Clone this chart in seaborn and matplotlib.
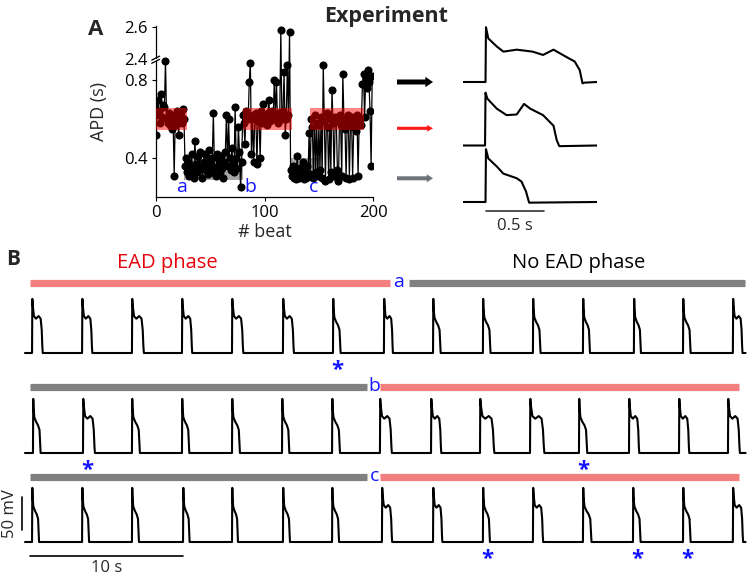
import numpy as np
import pandas as pd
import matplotlib
matplotlib.use("Agg")
import matplotlib.pyplot as plt
import seaborn as sns
from matplotlib.patches import Rectangle, FancyArrowPatch
from matplotlib.lines import Line2D

# ---------------- data ----------------
beat_apd = [
    0.52, 0.62, 0.70, 0.64, 0.58, 0.73, 0.61, 0.67, 0.66, 0.90,
    0.60, 0.58, 0.63, 0.57, 0.61, 0.55, 0.59, 0.31, 0.62, 0.57,
    0.64, 0.52, 0.60, 0.62, 0.58, 0.65, 0.60, 0.36, 0.40, 0.33,
    0.38, 0.31, 0.35, 0.42, 0.34, 0.30, 0.49, 0.37, 0.33, 0.41,
    0.36, 0.43, 0.35, 0.30, 0.38, 0.42, 0.34, 0.39, 0.32, 0.44,
    0.37, 0.33, 0.40, 0.63, 0.35, 0.31, 0.42, 0.36, 0.39, 0.33,
    0.41, 0.35, 0.30, 0.38, 0.43, 0.62, 0.36, 0.60, 0.40, 0.34,
    0.45, 0.37, 0.33, 0.66, 0.40, 0.35, 0.56, 0.43, 0.25, 0.38,
    0.62, 0.58, 0.47, 0.64, 0.61, 0.60, 0.79, 0.89, 0.42, 0.62,
    0.38, 0.60, 0.63, 0.37, 0.59, 0.61, 0.40, 0.64, 0.58, 0.68,
    0.60, 0.62, 0.57, 0.63, 0.70, 0.59, 0.61, 0.64, 0.60, 0.80,
    0.62, 0.79, 0.58, 0.63, 0.61, 2.58, 0.60, 0.64, 0.84, 0.52,
    0.60, 0.88, 0.62, 2.57, 0.34, 0.31, 0.36, 0.30, 0.33, 0.29,
    0.41, 0.32, 0.30, 0.35, 0.31, 0.38, 0.29, 0.33, 0.30, 0.36,
    0.31, 0.53, 0.32, 0.60, 0.56, 0.30, 0.62, 0.33, 0.58, 0.31,
    0.57, 0.34, 0.61, 0.30, 0.88, 0.59, 0.28, 0.63, 0.56, 0.29,
    0.60, 0.33, 0.75, 0.58, 0.31, 0.61, 0.59, 0.34, 0.28, 0.62,
    0.57, 0.31, 0.83, 0.60, 0.55, 0.30, 0.58, 0.62, 0.29, 0.57,
    0.61, 0.30, 0.56, 0.59, 0.54, 0.62, 0.31, 0.58, 0.60, 0.57,
    0.78, 0.83, 0.61, 0.81, 0.76, 0.85, 0.79, 0.64, 0.36, 0.82,
]
beat_idx = list(range(len(beat_apd)))

red_boxes = [(0, 29), (80, 125), (142, 191)]       # beat ranges, EAD phase
red_box_apd = (0.542, 0.659)
gray_boxes = [(26, 80, 0.289, 0.357), (124, 151, 0.289, 0.400)]
phase_letters = ["a", "b", "c"]
letter_beats = [24, 87, 145.5]

# representative action potentials (time s, membrane potential mV)
ap_long_t = [0, 0.194, 0.198, 0.218, 0.290, 0.348, 0.463, 0.600, 0.690, 0.780, 0.890, 0.963, 1.006, 1.030, 1.045, 1.155]
ap_long_v = [-80, -80, 3, -14, -26, -34, -31, -34, -39, -31, -42, -49, -62, -82, -81, -80]
ap_ead_t = [0, 0.190, 0.194, 0.210, 0.290, 0.376, 0.463, 0.526, 0.578, 0.690, 0.780, 0.808, 0.830, 1.155]
ap_ead_v = [-80, -80, 0, -9, -24, -34, -33, -17, -24, -34, -50, -72, -81, -80]
ap_short_t = [0, 0.194, 0.198, 0.218, 0.290, 0.348, 0.463, 0.504, 0.543, 0.570, 1.155]
ap_short_v = [-80, -80, 0, -14, -26, -37, -44, -49, -64, -81, -80]

# panel B: beat onsets (s), APD (s), EAD flag per row
row_onsets = [
    [0.46, 3.73, 6.99, 10.26, 13.53, 16.86, 20.13, 23.46, 26.67, 29.93, 33.20, 36.47, 39.80, 43.01, 46.27],
    [0.52, 3.79, 6.99, 10.26, 13.53, 16.80, 20.07, 23.20, 26.54, 29.74, 33.01, 36.21, 39.48, 42.75, 45.95],
    [0.46, 3.73, 6.99, 10.33, 13.53, 16.86, 20.07, 23.33, 26.67, 29.93, 33.20, 36.47, 39.74, 43.01, 46.27],
]
row_apd = [
    [0.68, 0.65, 0.76, 0.65, 0.72, 0.70, 0.48, 0.57, 0.48, 0.48, 0.48, 0.44, 0.44, 0.48, 0.61],
    [0.48, 0.76, 0.50, 0.46, 0.50, 0.46, 0.50, 0.76, 0.65, 0.92, 0.92, 0.52, 0.65, 0.65, 0.76],
    [0.44, 0.44, 0.44, 0.41, 0.37, 0.44, 0.44, 0.65, 0.59, 0.44, 0.65, 0.54, 0.48, 0.48, 0.65],
]
row_ead = [
    [1, 1, 1, 1, 1, 1, 0, 1, 0, 0, 0, 0, 0, 0, 1],
    [0, 1, 0, 0, 0, 0, 0, 1, 1, 1, 1, 0, 1, 1, 1],
    [0, 0, 0, 0, 0, 0, 0, 1, 1, 0, 1, 0, 0, 0, 1],
]
row_asterisks = [[6], [1, 11], [9, 12, 13]]
row_phases = [
    [(0.33, 23.86, "ead"), (25.1, 47.06, "noead")],
    [(0.33, 22.35, "noead"), (23.2, 46.7, "ead")],
    [(0.33, 22.35, "noead"), (23.2, 46.7, "ead")],
]
row_letter_t = [24.45, 22.85, 22.85]
trace_end = 47.1

# AP templates (fraction of APD, mV)
ead_frac = [0.0, 0.04, 0.15, 0.35, 0.60, 0.80, 0.90, 0.96, 1.0]
ead_volt = [2, -8, -24, -28, -24, -28, -45, -70, -80]
noead_frac = [0.0, 0.04, 0.15, 0.40, 0.65, 0.85, 0.93, 1.0]
noead_volt = [2, -12, -26, -33, -38, -45, -65, -80]

# ---------------- style ----------------
W, H = 750, 576
sns.set_theme(style="white")
plt.rcParams["font.family"] = ["Open Sans", "DejaVu Sans"]
RED_BAR = "#f47f7f"
GRAY_BAR = "#808080"
BLUE = "#1414ff"

fig = plt.figure(figsize=(W / 100, H / 100), dpi=100)


def px_axes(l, t, r, b):
    return fig.add_axes([l / W, 1 - b / H, (r - l) / W, (b - t) / H])


def fig_xy(x, y):
    return (x / W, 1 - y / H)


# ---------------- panel A: APD vs beat ----------------
B0, B1, K = 0.905, 2.395, 0.8128


def fwd(y):
    y = np.asarray(y, dtype=float)
    return np.where(y <= B0, y, np.where(y >= B1, B0 + (y - B1) * K, B0))


def inv(z):
    z = np.asarray(z, dtype=float)
    return np.where(z <= B0, z, B1 + (z - B0) / K)


axA = px_axes(155.7, 26, 373.3, 197)
df = pd.DataFrame({"beat": beat_idx, "apd": beat_apd})
sns.lineplot(data=df, x="beat", y="apd", ax=axA, color="black", lw=0.9,
             estimator=None, zorder=2)
sns.scatterplot(data=df, x="beat", y="apd", ax=axA, color="black", s=34,
                linewidth=0, zorder=3)
axA.set_yscale("function", functions=(fwd, inv))
axA.set_xlim(0, 200)
axA.set_ylim(0.2, 2.608)

for x0, x1, y0, y1 in gray_boxes:
    axA.add_patch(Rectangle((x0, y0), x1 - x0, y1 - y0, facecolor="#a6a6a6",
                            edgecolor="none", zorder=1))
for x0, x1 in red_boxes:
    axA.add_patch(Rectangle((x0, red_box_apd[0]), x1 - x0, red_box_apd[1] - red_box_apd[0],
                            facecolor="red", alpha=0.48, edgecolor="none", zorder=4))
for lt, xb in zip(phase_letters, letter_beats):
    axA.text(xb, 0.25, lt, color=BLUE, fontsize=14, ha="center", va="center", zorder=5)

axA.set_yticks([0.4, 0.8, 2.4, 2.6])
axA.set_yticklabels(["0.4", "0.8", "2.4", "2.6"])
axA.set_xticks([0, 100, 200])
axA.minorticks_off()
axA.yaxis.set_minor_locator(matplotlib.ticker.NullLocator())
for s in ["top", "right"]:
    axA.spines[s].set_visible(False)
for s in ["left", "bottom"]:
    axA.spines[s].set_color("black")
    axA.spines[s].set_linewidth(0.9)
axA.tick_params(axis="both", which="major", direction="out", length=3, width=0.8,
                bottom=True, left=True, labelsize=12, colors="black", pad=3)
axA.set_xlabel("# beat", fontsize=13, labelpad=1)
axA.set_ylabel("APD (s)", fontsize=13)
axA.yaxis.set_label_coords(-0.22, 0.5)
axA.set_facecolor("none")

# axis break mark on the left spine
bx, by = axA.transData.transform((0, B1))
bxf, byf = fig.transFigure.inverted().transform((bx, by))
for off in (-1.6, 1.6):
    fig.add_artist(Line2D([bxf - 4 / W, bxf + 4 / W],
                          [byf + (off - 2) / H, byf + (off + 2) / H],
                          color="black", lw=0.9))
fig.add_artist(Rectangle((bxf - 1.5 / W, byf - 1.2 / H), 3 / W, 2.4 / H,
                         transform=fig.transFigure, facecolor="white", edgecolor="none"))

# ---------------- panel A: AP traces ----------------
ap_traces = [(ap_long_t, ap_long_v), (ap_ead_t, ap_ead_v), (ap_short_t, ap_short_v)]
ap_base_px = [82, 145.5, 202]
ap_axes = []
for (tt, vv), bpx in zip(ap_traces, ap_base_px):
    ax = px_axes(463, bpx - 56.1, 597, bpx + 3.3)
    sns.lineplot(x=tt, y=vv, ax=ax, color="black", lw=1.5, estimator=None, sort=False)
    ax.set_xlim(0, 1.155)
    ax.set_ylim(-85, 5)
    ax.axis("off")
    ap_axes.append(ax)
ax3 = ap_axes[2]
ax3.plot([0.198, 0.698], [-93.6, -93.6], color="#333333", lw=1.2, clip_on=False)
ax3.text(0.448, -117, "0.5 s", fontsize=12, ha="center", va="center")

# arrows
arrows = [(82, "black", 3.6, 7.5, 5.5), (128.3, "#ff1a1a", 2.2, 4.8, 4.2), (178.3, "#6d747c", 2.9, 5.8, 4.5)]
for ypx, col, tw, hw, hl in arrows:
    fig.add_artist(FancyArrowPatch(fig_xy(397, ypx), fig_xy(433, ypx), transform=fig.transFigure,
                                   arrowstyle=f"simple,tail_width={tw},head_width={hw},head_length={hl}",
                                   mutation_scale=1, color=col, lw=0, shrinkA=0, shrinkB=0))

# ---------------- panel B ----------------
row_base_px = [353, 453, 542]
row_bar_px = [283, 387, 477]
PXMV = 0.66
for r in range(3):
    bpx = row_base_px[r]
    ax = px_axes(20, bpx - 75.9, 750, bpx + 9.9)
    tt = [0.0]
    vv = [-80.0]
    for on, apd, ead in zip(row_onsets[r], row_apd[r], row_ead[r]):
        fr, vo = (ead_frac, ead_volt) if ead else (noead_frac, noead_volt)
        tt.append(on)
        vv.append(-80.0)
        for f, v in zip(fr, vo):
            tt.append(on + 0.02 + f * apd)
            vv.append(v)
    tt.append(trace_end)
    vv.append(-80.0)
    sns.lineplot(x=tt, y=vv, ax=ax, color="black", lw=1.5, estimator=None, sort=False)
    ax.set_xlim(-0.327, 47.39)
    ax.set_ylim(-95, 35)
    ax.axis("off")
    bar_mv = -80 + (bpx - row_bar_px[r]) / PXMV
    for t0, t1, kind in row_phases[r]:
        ax.plot([t0, t1], [bar_mv, bar_mv], color=RED_BAR if kind == "ead" else GRAY_BAR,
                lw=5.2, solid_capstyle="butt", clip_on=False)
    ax.text(row_letter_t[r], bar_mv + 1, phase_letters[r], color=BLUE, fontsize=14,
            ha="center", va="center")
    for bi in row_asterisks[r]:
        ax.text(row_onsets[r][bi] + 0.3, -107, "*", color=BLUE, fontsize=16,
                fontweight="bold", ha="center", va="center", clip_on=False)
    if r == 2:
        ax.plot([-0.2, -0.2], [-62, -12], color="black", lw=1.2, clip_on=False)
        ax.text(-0.98, -37, "50 mV", rotation=90, fontsize=12, ha="center", va="center")
        ax.plot([0.33, 10.33], [-101, -101], color="black", lw=1.2, clip_on=False)
        ax.text(5.33, -119, "10 s", fontsize=12, ha="center", va="center")

# ---------------- texts ----------------
fig.text(*fig_xy(386, 22), "Experiment", fontsize=15.5, fontweight="bold", ha="center", va="baseline")
fig.text(*fig_xy(95.5, 35), "A", fontsize=16, fontweight="bold", ha="center", va="baseline")
fig.text(*fig_xy(13, 265), "B", fontsize=15, fontweight="bold", ha="center", va="baseline")
fig.text(*fig_xy(167, 268), "EAD phase", fontsize=14.5, color="#e8000b", ha="center", va="baseline")
fig.text(*fig_xy(579, 268), "No EAD phase", fontsize=14.5, color="black", ha="center", va="baseline")

fig.savefig("out.png", dpi=100)
